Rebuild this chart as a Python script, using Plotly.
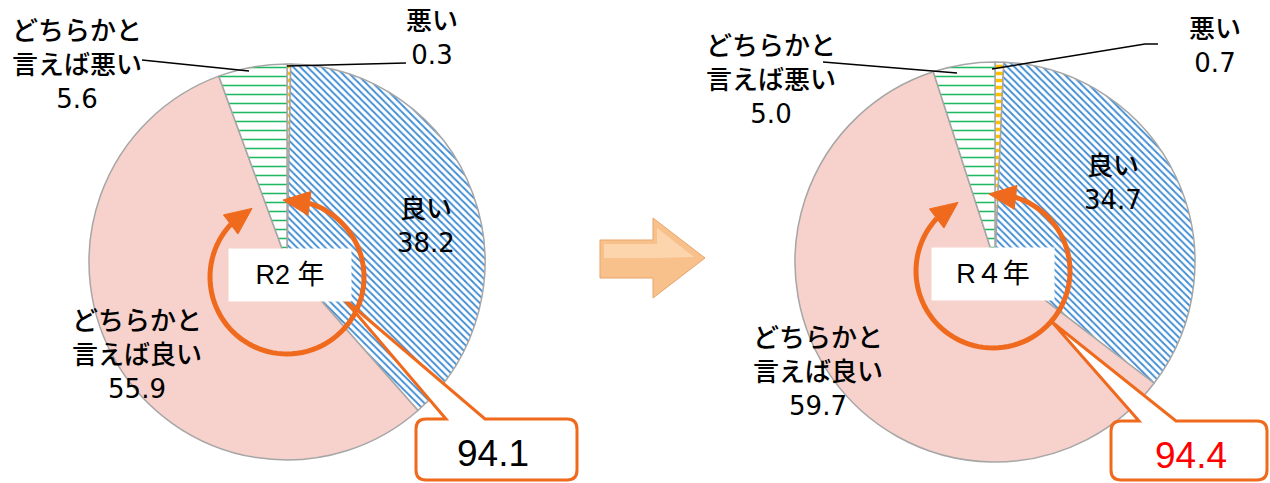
import math
import plotly.graph_objects as go

# ---- data -------------------------------------------------------------
categories = ["悪い", "良い", "どちらかと言えば良い", "どちらかと言えば悪い"]
label_lines = [["悪い"], ["良い"], ["どちらかと", "言えば良い"], ["どちらかと", "言えば悪い"]]
values_r2 = [0.3, 38.2, 55.9, 5.6]
values_r4 = [0.7, 34.7, 59.7, 5.0]
year_labels = ["R2 年", "R４年"]

# ---- canvas helpers (pixel -> paper) ----------------------------------
W, H = 1270, 483


def px(x):
    return x / W


def py(y):
    return 1 - y / H


def path_from(points, close=True):
    s = "M " + " L ".join(f"{px(x):.5f},{py(y):.5f}" for x, y in points)
    return s + (" Z" if close else "")


# ---- slice styling ----------------------------------------------------
slice_bg = ["#ffffff", "#ffffff", "#f7d1cb", "#ffffff"]
pattern_shape = ["-", "\\", "", "-"]
pattern_fg = ["#ffc000", "#3d8bd3", "#f7d1cb", "#1db85f"]
pattern_size = [7, 5, 8, 9]
pattern_solid = [0.5, 0.36, 0.3, 0.17]

ORANGE = "#ef6a1c"
FONT = "DejaVu Sans, Noto Sans CJK JP Medium, Noto Sans CJK JP"


def pie(values, box):
    x0, y0, x1, y1 = box
    return go.Pie(
        labels=categories, values=values, sort=False, direction="clockwise",
        rotation=0, textinfo="none", hoverinfo="label+value", showlegend=False,
        domain=dict(x=[px(x0), px(x1)], y=[py(y1), py(y0)]),
        marker=dict(
            colors=slice_bg,
            line=dict(color="#a6a6a6", width=1.5),
            pattern=dict(shape=pattern_shape, fgcolor=pattern_fg, bgcolor=slice_bg,
                         size=pattern_size, solidity=pattern_solid),
        ),
    )


fig = go.Figure()
fig.add_trace(pie(values_r2, (89, 64, 485, 460)))
fig.add_trace(pie(values_r4, (795, 62, 1195, 462)))

shapes = []
annotations = []


def label(lines, value, x, y, size=26):
    text = "<br>".join(lines + [f"{value:.1f}"])
    annotations.append(dict(x=px(x), y=py(y), xref="paper", yref="paper", text=text,
                            showarrow=False, xanchor="center", yanchor="middle",
                            font=dict(family=FONT, size=size, color="black", weight=500)))


# slice labels: (category index, centre x, centre y) for each pie
label_pos_r2 = [(0, 432, 38), (1, 426, 226), (2, 137, 355), (3, 77, 65)]
label_pos_r4 = [(0, 1215, 46), (1, 1113, 183), (2, 818, 372), (3, 771, 80)]
for i, x, y in label_pos_r2:
    label(label_lines[i], values_r2[i], x, y)
for i, x, y in label_pos_r4:
    label(label_lines[i], values_r4[i], x, y)

# leader lines
for pts in ([(142, 60), (249, 71)], [(287, 66), (406, 63)],
            [(823, 62), (957, 73)], [(992, 69), (1145, 44), (1158, 44)]):
    shapes.append(dict(type="path", xref="paper", yref="paper",
                       path=path_from(pts, close=False),
                       line=dict(color="black", width=1.5)))


def cycle_arrow(cx, cy, r, a0, a1, tip_gap=20, head_w=12):
    """Open circle with arrow heads on both ends (angles in degrees, y up)."""
    def pt(a, rr=r):
        t = math.radians(a)
        return (cx + rr * math.cos(t), cy - rr * math.sin(t))

    n = 80
    arc = [pt(a0 + (a1 - a0) * k / n) for k in range(n + 1)]
    shapes.append(dict(type="path", xref="paper", yref="paper",
                       path=path_from(arc, close=False),
                       line=dict(color=ORANGE, width=5)))
    for base_a, tip_a in ((a0, a0 - tip_gap), (a1, a1 + tip_gap)):
        bx, by = pt(base_a)
        tx, ty = pt(tip_a)
        dx, dy = tx - bx, ty - by
        L = math.hypot(dx, dy)
        nx, ny = -dy / L * head_w, dx / L * head_w
        tri = [(tx, ty), (bx + nx, by + ny), (bx - nx, by - ny)]
        shapes.append(dict(type="path", xref="paper", yref="paper", path=path_from(tri),
                           fillcolor=ORANGE, line=dict(color=ORANGE, width=1)))


cycle_arrow(287, 277, 77, 137, 433)
cycle_arrow(993, 271, 77, 137, 433)


def callout(x0, y0, x1, y1, foot_a, foot_b, tip, rr=10):
    pts_path = (
        f"M {px(x0 + rr)},{py(y0)} L {px(foot_a)},{py(y0)} L {px(tip[0])},{py(tip[1])} "
        f"L {px(foot_b)},{py(y0)} L {px(x1 - rr)},{py(y0)} "
        f"Q {px(x1)},{py(y0)} {px(x1)},{py(y0 + rr)} L {px(x1)},{py(y1 - rr)} "
        f"Q {px(x1)},{py(y1)} {px(x1 - rr)},{py(y1)} L {px(x0 + rr)},{py(y1)} "
        f"Q {px(x0)},{py(y1)} {px(x0)},{py(y1 - rr)} L {px(x0)},{py(y0 + rr)} "
        f"Q {px(x0)},{py(y0)} {px(x0 + rr)},{py(y0)} Z"
    )
    shapes.append(dict(type="path", xref="paper", yref="paper", path=pts_path,
                       fillcolor="white", line=dict(color=ORANGE, width=3)))


callout(416, 419, 577, 480, 446, 485, (343, 298))
callout(1111, 421, 1267, 480, 1139, 1176, (1052, 322))

totals = [round(values_r2[1] + values_r2[2], 1), round(values_r4[1] + values_r4[2], 1)]
for (x, y), tot, col in zip([(493, 453), (1191, 455)], totals, ["black", "#ff0000"]):
    annotations.append(dict(x=px(x), y=py(y), xref="paper", yref="paper", text=f"{tot:.1f}",
                            showarrow=False, xanchor="center", yanchor="middle",
                            font=dict(family="Liberation Sans", size=37, color=col)))

# year boxes
for (x, y), txt in zip([(290, 275), (993, 274)], year_labels):
    annotations.append(dict(x=px(x), y=py(y), xref="paper", yref="paper", text=txt,
                            showarrow=False, xanchor="center", yanchor="middle",
                            width=120, height=50, bgcolor="white",
                            font=dict(family="Liberation Sans, Noto Sans CJK JP", size=27,
                                      color="black")))

# block arrow between the two pies
arrow_pts = [(600, 240), (653, 240), (653, 218), (705, 258), (653, 298), (653, 278), (600, 278)]
shapes.append(dict(type="path", xref="paper", yref="paper", path=path_from(arrow_pts),
                   fillcolor="#f8c08b", line=dict(color="#e9a46a", width=1)))
shapes.append(dict(type="path", xref="paper", yref="paper",
                   path=path_from([(604, 244), (657, 244), (657, 228), (694, 257), (657, 258), (604, 258)]),
                   fillcolor="#fcd5ad", line=dict(width=0)))

fig.update_layout(
    width=W, height=H, margin=dict(l=0, r=0, t=0, b=0),
    paper_bgcolor="white", plot_bgcolor="white",
    shapes=shapes, annotations=annotations,
)
fig.write_html("out.html")
